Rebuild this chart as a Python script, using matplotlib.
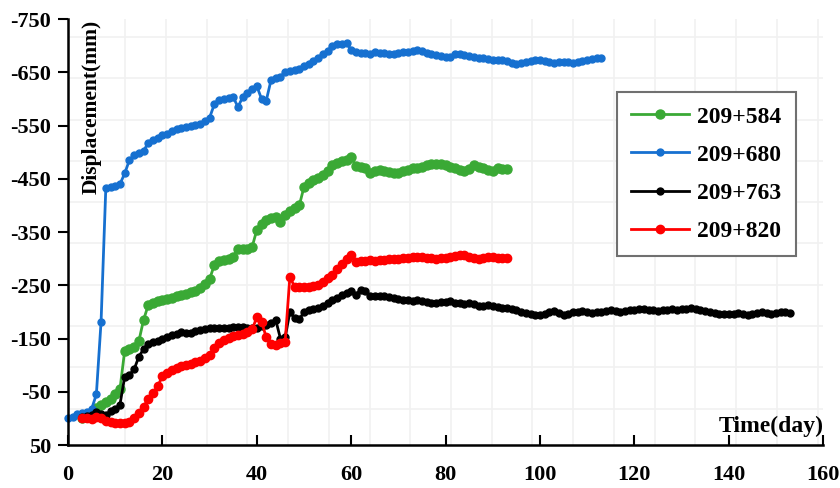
import matplotlib
matplotlib.use('Agg')
import matplotlib.pyplot as plt
import numpy as np

plt.rcParams['font.family'] = ['Liberation Serif', 'DejaVu Serif']
plt.rcParams['font.weight'] = 'bold'
plt.rcParams['axes.unicode_minus'] = False

labels = ['209+584', '209+680', '209+763', '209+820']
colors = ['#3aa935', '#1670d0', '#000000', '#ff0000']

# displacement (mm), one reading per day
days_584 = np.arange(3, 94)
disp_584 = [0, -3, -10, -20, -25, -30, -37, -45, -55, -127,
            -130, -135, -145, -185, -213, -217, -220, -222, -224, -226,
            -229, -231, -234, -237, -240, -244, -252, -262, -288, -296,
            -298, -300, -304, -318, -318, -319, -322, -354, -366, -372,
            -377, -378, -369, -382, -390, -396, -400, -435, -442, -447,
            -452, -458, -464, -476, -480, -483, -485, -490, -474, -473,
            -470, -460, -464, -466, -464, -462, -461, -460, -464, -467,
            -470, -471, -473, -475, -477, -477, -478, -476, -473, -470,
            -467, -464, -468, -476, -473, -470, -467, -464, -470, -469,
            -468]

days_680 = np.arange(0, 114)
disp_680 = [0, -2, -8, -10, -12, -18, -45, -182, -432, -435,
            -437, -440, -460, -485, -494, -499, -502, -518, -522, -527,
            -532, -535, -540, -544, -546, -548, -549, -551, -553, -558,
            -565, -590, -598, -600, -601, -603, -585, -603, -612, -618,
            -624, -600, -597, -635, -639, -642, -650, -653, -654, -656,
            -662, -666, -672, -677, -684, -690, -700, -703, -704, -705,
            -692, -688, -687, -686, -684, -689, -687, -686, -685, -684,
            -686, -688, -689, -690, -691, -690, -687, -685, -683, -681,
            -679, -678, -685, -684, -682, -680, -678, -676, -676, -675,
            -674, -674, -673, -672, -668, -665, -668, -670, -672, -673,
            -673, -671, -669, -668, -669, -670, -669, -668, -670, -672,
            -674, -675, -676, -676]

days_763 = np.arange(3, 154)
disp_763 = [-2, -4, -6, -12, -8, -6, -14, -18, -26, -78,
            -82, -92, -116, -130, -139, -143, -146, -150, -153, -156,
            -159, -162, -161, -160, -164, -166, -168, -169, -169, -169,
            -170, -170, -171, -172, -171, -170, -169, -170, -173, -175,
            -179, -185, -150, -152, -200, -188, -186, -200, -203, -205,
            -207, -212, -217, -222, -227, -232, -236, -240, -232, -242,
            -240, -230, -229, -229, -229, -228, -226, -224, -222, -222,
            -221, -222, -221, -219, -216, -217, -218, -219, -220, -217,
            -216, -215, -216, -214, -212, -211, -213, -212, -210, -208,
            -207, -205, -203, -200, -198, -197, -195, -194, -196, -200,
            -202, -198, -195, -196, -199, -200, -201, -200, -198, -199,
            -200, -202, -203, -201, -200, -201, -203, -204, -205, -206,
            -204, -203, -202, -203, -204, -205, -204, -205, -206, -207,
            -205, -203, -201, -199, -198, -197, -196, -196, -197, -198,
            -196, -195, -196, -198, -199, -198, -197, -198, -199, -200,
            -198]

days_820 = np.arange(3, 94)
disp_820 = [0, 0, 2, -2, -1, 4, 6, 8, 9, 8,
            6, 0, -10, -22, -37, -48, -60, -80, -86, -91,
            -95, -98, -100, -103, -106, -108, -114, -119, -132, -142,
            -147, -151, -154, -156, -159, -163, -167, -190, -182, -152,
            -139, -138, -141, -144, -266, -247, -246, -247, -247, -249,
            -251, -256, -263, -270, -280, -290, -300, -307, -294, -295,
            -296, -297, -296, -297, -298, -299, -300, -300, -301, -302,
            -303, -304, -303, -302, -301, -300, -301, -302, -303, -305,
            -306, -307, -304, -301, -300, -301, -303, -304, -301, -301,
            -302]

x_ticks = list(range(0, 161, 20))
y_ticks = list(range(50, -751, -100))

series = [(days_584, disp_584, 6.5), (days_680, disp_680, 5),
          (days_763, disp_763, 5), (days_820, disp_820, 6)]

fig = plt.figure(figsize=(8.4, 4.88), dpi=100)
ax = fig.add_axes([0.081, 0.088, 0.899, 0.873])

for (d, v, ms), lab, c in zip(series, labels, colors):
    ax.plot(d, v, '-o', color=c, lw=2, ms=ms, label=lab, clip_on=False)

ax.set_xlim(0, 160)
ax.set_ylim(50, -750)
ax.set_xticks(x_ticks)
ax.set_yticks(y_ticks)
ax.tick_params(axis='x', direction='in', length=7, width=1.5, labelsize=16, pad=14)
ax.tick_params(axis='y', direction='out', length=7, width=1.5, labelsize=16, pad=5)
for lab in ax.get_xticklabels() + ax.get_yticklabels():
    lab.set_fontweight('bold')

ax.spines['top'].set_visible(False)
ax.spines['right'].set_visible(False)
ax.spines['left'].set_linewidth(1.8)
ax.spines['bottom'].set_linewidth(1.8)

# faint background grid
ax.set_xticks(np.arange(12.1, 160, 8.63), minor=True)
ax.set_yticks(np.arange(-716, 50, 77.5), minor=True)
ax.tick_params(which='minor', length=0)
ax.grid(which='minor', color='#f1f1f1', lw=1.2)
ax.set_axisbelow(True)

ax.text(0.018, 0.998, 'Displacement(mm)', transform=ax.transAxes, rotation=90,
        ha='left', va='top', fontsize=15.5, fontweight='bold')
ax.text(1.0, 0.018, 'Time(day)', transform=ax.transAxes,
        ha='right', va='bottom', fontsize=17, fontweight='bold')

leg = ax.legend(loc='upper left', bbox_to_anchor=(0.7345, 0.8115),
                bbox_transform=fig.transFigure, borderaxespad=0, fontsize=17,
                numpoints=1, handlelength=2.45, handletextpad=0.35,
                labelspacing=0.7, borderpad=0.6, fancybox=False, framealpha=1)
leg.get_frame().set_edgecolor('#707070')
leg.get_frame().set_linewidth(1.5)
for t in leg.get_texts():
    t.set_fontweight('bold')

fig.savefig('out.png', dpi=100)
